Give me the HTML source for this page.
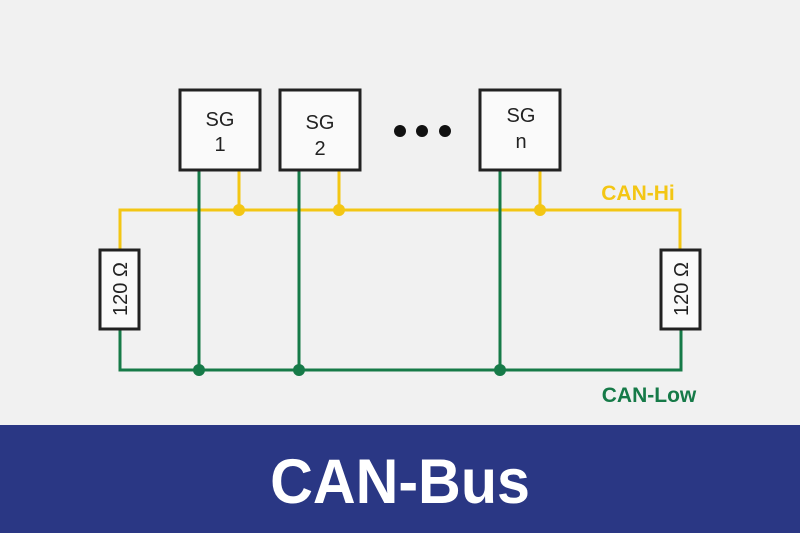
<!DOCTYPE html>
<html>
<head>
<meta charset="utf-8">
<style>
html,body{margin:0;padding:0;}
body{width:800px;height:533px;overflow:hidden;background:#f1f1f1;}
svg{display:block;}
</style>
</head>
<body>
<svg width="800" height="533" viewBox="0 0 800 533" xmlns="http://www.w3.org/2000/svg">
  <rect x="0" y="0" width="800" height="533" fill="#f1f1f1"/>

  <!-- yellow CAN-Hi -->
  <g stroke="#f3c614" stroke-width="3" fill="none">
    <polyline points="120,249 120,210 680,210 680,249"/>
    <line x1="239" y1="171" x2="239" y2="210"/>
    <line x1="339" y1="171" x2="339" y2="210"/>
    <line x1="540" y1="171" x2="540" y2="210"/>
  </g>
  <g fill="#f3c614">
    <circle cx="239" cy="210" r="6"/>
    <circle cx="339" cy="210" r="6"/>
    <circle cx="540" cy="210" r="6"/>
  </g>

  <!-- green CAN-Low -->
  <g stroke="#167a48" stroke-width="3" fill="none">
    <polyline points="120,330 120,370 681,370 681,330"/>
    <line x1="199" y1="171" x2="199" y2="370"/>
    <line x1="299" y1="171" x2="299" y2="370"/>
    <line x1="500" y1="171" x2="500" y2="370"/>
  </g>
  <g fill="#167a48">
    <circle cx="199" cy="370" r="6"/>
    <circle cx="299" cy="370" r="6"/>
    <circle cx="500" cy="370" r="6"/>
  </g>

  <!-- SG boxes -->
  <g fill="#fafafa" stroke="#222" stroke-width="3">
    <rect x="180" y="90" width="80" height="80"/>
    <rect x="280" y="90" width="80" height="80"/>
    <rect x="480" y="90" width="80" height="80"/>
  </g>
  <g font-family="Liberation Sans, Arial, sans-serif" font-size="20" fill="#222" text-anchor="middle">
    <text x="220" y="126">SG</text>
    <text x="220" y="151">1</text>
    <text x="320" y="129">SG</text>
    <text x="320" y="155">2</text>
    <text x="521" y="122">SG</text>
    <text x="521" y="148">n</text>
  </g>

  <!-- dots -->
  <g fill="#111">
    <circle cx="400" cy="131" r="6"/>
    <circle cx="422" cy="131" r="6"/>
    <circle cx="445" cy="131" r="6"/>
  </g>

  <!-- resistors -->
  <g fill="#fafafa" stroke="#222" stroke-width="3">
    <rect x="100" y="250" width="39" height="79"/>
    <rect x="661" y="250" width="39" height="79"/>
  </g>
  <g font-family="Liberation Sans, Arial, sans-serif" font-size="20" fill="#222" text-anchor="middle">
    <text transform="translate(127,289) rotate(-90)">120 Ω</text>
    <text transform="translate(688,289) rotate(-90)">120 Ω</text>
  </g>

  <!-- labels -->
  <text x="638" y="200" font-family="Liberation Sans, Arial, sans-serif" font-size="21" font-weight="bold" fill="#f3c614" text-anchor="middle">CAN-Hi</text>
  <text x="649" y="402" font-family="Liberation Sans, Arial, sans-serif" font-size="21" font-weight="bold" fill="#167a48" text-anchor="middle">CAN-Low</text>

  <!-- bottom band -->
  <rect x="0" y="425" width="800" height="108" fill="#2a3784"/>
  <text x="400" y="503" font-family="Liberation Sans, Arial, sans-serif" font-size="63" font-weight="bold" fill="#ffffff" text-anchor="middle" transform="translate(400,0) scale(0.94,1) translate(-400,0)">CAN-Bus</text>
</svg>
</body>
</html>
